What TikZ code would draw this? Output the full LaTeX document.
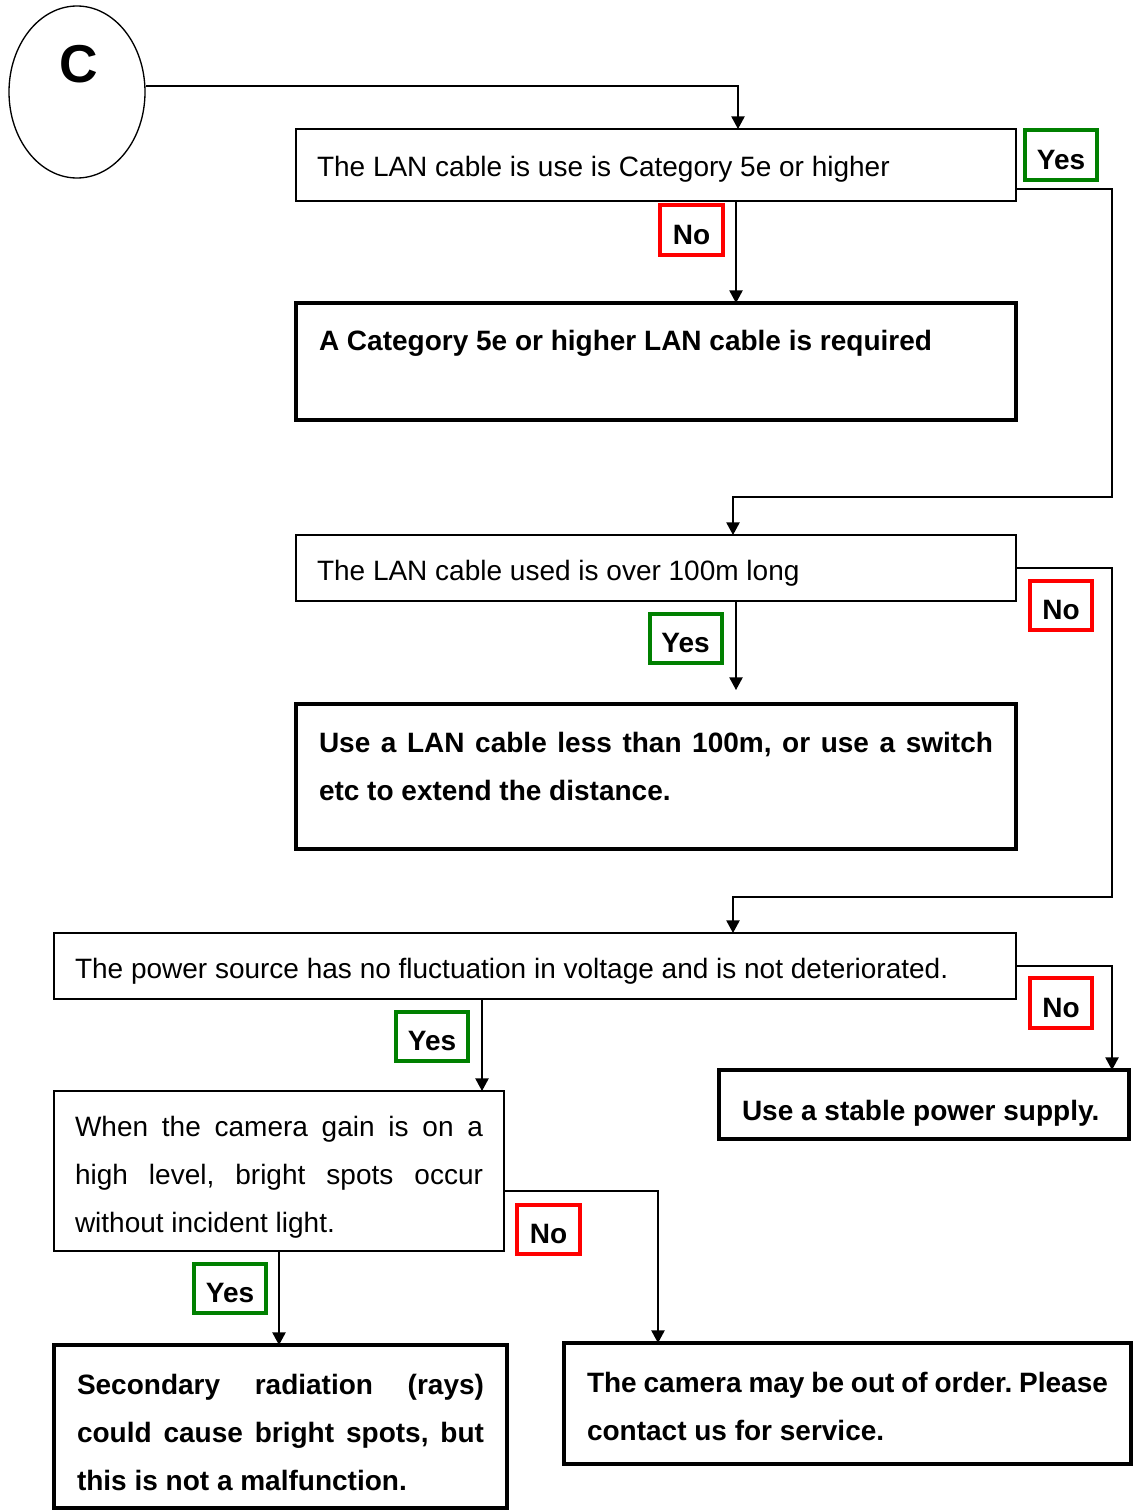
\documentclass[tikz,border=0pt]{standalone}
\usepackage{fontspec}
\setmainfont{Liberation Sans}
\usetikzlibrary{shapes.geometric,arrows.meta,calc}

\definecolor{yesgreen}{RGB}{0,128,0}
\definecolor{nored}{RGB}{255,0,0}

\begin{document}
\frenchspacing
\begin{tikzpicture}[x = 0.75pt, y = -0.75pt,
  every node/.style = {font = \fontsize{21pt}{36pt}\selectfont},
  ask/.style = {draw, line width = 1pt, anchor = north west, outer sep = 0pt, inner ysep = 0pt, inner xsep = 15.75pt, align = justify},
  tell/.style = {ask, line width = 3.5pt, inner xsep = 17.25pt, font = \fontsize{21pt}{36pt}\selectfont\bfseries},
  yesbox/.style = {draw = yesgreen, line width = 3pt, minimum width = 54pt, minimum height = 37pt, inner sep = 0pt,
                   text height = 21pt, text depth = 0pt, font = \fontsize{21pt}{24pt}\selectfont\bfseries},
  nobox/.style = {yesbox, draw = nored, minimum width = 47pt},
  flow/.style = {line width = 1pt, -{Triangle[length = 9.5pt, width = 10pt]}}]
\useasboundingbox (0,0) rectangle (1133,1510);

\node[ellipse, draw, line width = 1pt, minimum width = 102pt, minimum height = 129pt, inner sep = 0pt,
      label = {[font = \fontsize{40pt}{40pt}\selectfont\bfseries, yshift = 21pt, xshift = 1pt]center:C}] (c) at (77,92) {};

% checks and what to do
\node[ask, text width = 508.5pt, text height = 35.4pt, text depth = 18.6pt] (1) at (296,129) {The LAN cable is use is Category 5e or higher};
\node[tell, text width = 505.5pt, text height = 35.75pt, text depth = 52pt] (2) at (296,303) {A Category 5e or higher LAN cable is required};
\node[ask, text width = 508.5pt, text height = 33.75pt, text depth = 15.75pt] (3) at (296,535) {The LAN cable used is over 100m long};
\node[tell, text width = 505.5pt, text height = 36pt, text depth = 72.75pt] (4) at (296,704) {Use a LAN cable less than 100m, or use a switch\linebreak etc to extend the distance.};
\node[ask, text width = 690pt, text height = 33.75pt, text depth = 15.75pt] (5) at (54,933) {The power source has no fluctuation in voltage and is not deteriorated.};
\node[tell, text width = 273pt, text height = 37.7pt, text depth = 14.05pt] (6) at (719,1070) {Use a stable power supply.};
\node[ask, text width = 306pt, text height = 33.75pt, text depth = 86.25pt] (7) at (54,1091) {When the camera gain is on a\linebreak high level, bright spots occur\linebreak without incident light.};
\node[tell, text width = 305.25pt, text height = 36.75pt, text depth = 85.5pt] (8) at (54,1345) {Secondary radiation (rays)\linebreak could cause bright spots, but\linebreak this is not a malfunction.};
\node[tell, text width = 390.75pt, text height = 36.75pt, text depth = 54pt] (9) at (564,1343) {The camera may be out of order. Please\linebreak contact us for service.};

% answers
\node[yesbox] (y1) at (1061,155) {Yes};
\node[nobox] (n1) at (691.5,230) {No};
\node[nobox] (n2) at (1061,605.5) {No};
\node[yesbox] (y2) at (685.5,638.5) {Yes};
\node[nobox] (n3) at (1061,1003) {No};
\node[yesbox] (y3) at (432,1036.5) {Yes};
\node[nobox] (n4) at (548.5,1229.5) {No};
\node[yesbox] (y4) at (230,1288.5) {Yes};

% connectors
\draw[flow] ([yshift = 4.5pt]c.east) -| ($(1.north)+(82,0)$);
\draw[flow] ($(1.south)+(80,0)$) -- ($(2.north)+(80,0)$);
\draw[flow] ($(1.east)+(0,24)$) -- ++(96,0) |- ($(3.north)+(77,-38)$) -- ($(3.north)+(77,0)$);
\draw[flow] ($(3.south)+(80,0)$) -- ($(4.north)+(80,-14)$);
\draw[flow] (3.east) -- ++(96,0) |- ($(5.north)+(198,-36)$) -- ($(5.north)+(198,0)$);
\draw[flow] (5.east) -| ($(6.north)+(188,0)$);
\draw[flow] ($(5.south)+(-53,0)$) -- ($(7.north)+(203,0)$);
\draw[flow] ($(7.east)+(0,20)$) -| ($(9.north)+(-189.5,0)$);
\draw[flow] (7.south) -- (7.south |- 8.north);
\end{tikzpicture}
\end{document}
